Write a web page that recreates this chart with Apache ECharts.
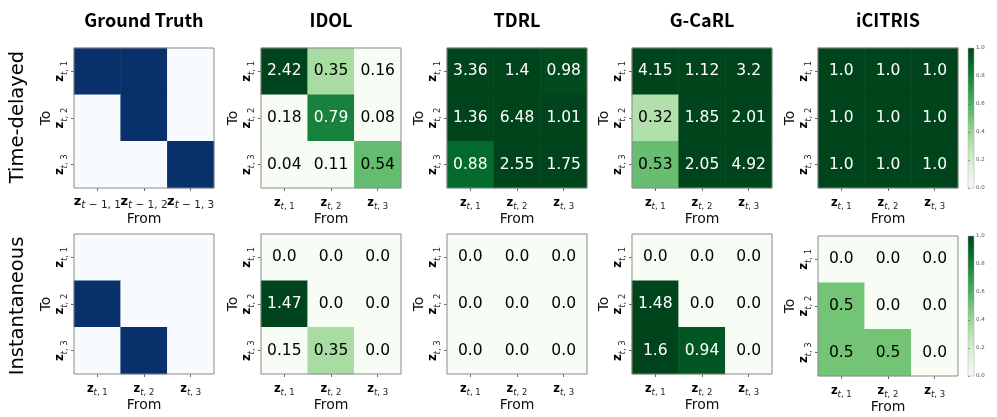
<!DOCTYPE html>
<html><head><meta charset="utf-8">
<script src="https://cdn.jsdelivr.net/npm/echarts@6/dist/echarts.min.js"></script>
<style>html,body{margin:0;padding:0;background:#fff}#c{width:997px;height:417px}</style>
</head><body><div id="c"></div><script>
// ---- data ----
const methods = ['Ground Truth', 'IDOL', 'TDRL', 'G-CaRL', 'iCITRIS'];
const rowNames = ['Time-delayed', 'Instantaneous'];
const subsNow = ['t, 1', 't, 2', 't, 3'];
const subsLag = ['t − 1, 1', 't − 1, 2', 't − 1, 3'];
const gtDelayed = [[1, 1, 0], [0, 1, 0], [0, 0, 1]];
const idolDelayed = [[2.42, 0.35, 0.16], [0.18, 0.79, 0.08], [0.04, 0.11, 0.54]];
const tdrlDelayed = [[3.36, 1.4, 0.98], [1.36, 6.48, 1.01], [0.88, 2.55, 1.75]];
const gcarlDelayed = [[4.15, 1.12, 3.2], [0.32, 1.85, 2.01], [0.53, 2.05, 4.92]];
const icitrisDelayed = [[1.0, 1.0, 1.0], [1.0, 1.0, 1.0], [1.0, 1.0, 1.0]];
const gtInst = [[0, 0, 0], [1, 0, 0], [0, 1, 0]];
const idolInst = [[0.0, 0.0, 0.0], [1.47, 0.0, 0.0], [0.15, 0.35, 0.0]];
const tdrlInst = [[0.0, 0.0, 0.0], [0.0, 0.0, 0.0], [0.0, 0.0, 0.0]];
const gcarlInst = [[0.0, 0.0, 0.0], [1.48, 0.0, 0.0], [1.6, 0.94, 0.0]];
const icitrisInst = [[0.0, 0.0, 0.0], [0.5, 0.0, 0.0], [0.5, 0.5, 0.0]];
const matrices = [
  [gtDelayed, idolDelayed, tdrlDelayed, gcarlDelayed, icitrisDelayed],
  [gtInst, idolInst, tdrlInst, gcarlInst, icitrisInst]
];

// ---- styles / layout ----
const lefts = [74, 261, 447, 632, 818];
const tops = [[48, 48, 48, 48, 48], [234, 234, 234, 234, 236]];
const SIZE = 140;
const greensStops = ['#f7fcf5', '#e5f5e0', '#c7e9c0', '#a1d99b', '#74c476', '#41ab5d', '#238b45', '#006d2c', '#00441b'];
function hex(c) { return [1, 3, 5].map(i => parseInt(c.slice(i, i + 2), 16)); }
function greens(t) {
  t = Math.max(0, Math.min(1, t));
  const p = t * 8, i = Math.min(7, Math.floor(p)), f = p - i;
  const a = hex(greensStops[i]), b = hex(greensStops[i + 1]);
  return 'rgb(' + a.map((v, k) => Math.round(v + (b[k] - v) * f)).join(',') + ')';
}
const cellColors = [];
for (let k = 0; k <= 20; k++) { const t = k / 20; cellColors.push(t <= 0.2 ? greensStops[0] : greens(t)); }

const FONT = 'DejaVu Sans';
function makeRich(zs, ss) {
  return {
    z: { fontFamily: FONT, fontWeight: 'bold', fontSize: zs, color: '#000', lineHeight: zs + 6, verticalAlign: 'middle' },
    i: { fontFamily: FONT, fontStyle: 'italic', fontSize: ss, color: '#222', lineHeight: ss + 2, verticalAlign: 'bottom' },
    s: { fontFamily: FONT, fontSize: ss, color: '#222', lineHeight: ss + 2, verticalAlign: 'bottom' }
  };
}
const rich = makeRich(11.5, 8.5);
const richLag = makeRich(13, 10.5);
function tickFmt(sub) { return '{z|z}{i|t}{s|' + sub.slice(1) + '}'; }
function valFmt(v) { return Number.isInteger(v) ? v.toFixed(1) : String(v); }

const grids = [], xAxes = [], yAxes = [], series = [], visualMaps = [], graphics = [];
for (let r = 0; r < 2; r++) {
  for (let c = 0; c < 5; c++) {
    const idx = r * 5 + c;
    const m = matrices[r][c];
    const lag = (r === 0 && c === 0);
    grids.push({ left: lefts[c], top: tops[r][c], width: SIZE, height: SIZE, show: true,
      borderColor: '#8a8a8a', borderWidth: 1, backgroundColor: 'transparent', z: 10 });
    xAxes.push({ gridIndex: idx, type: 'category', data: lag ? subsLag : subsNow, axisLine: { show: false },
      axisTick: { show: true, alignWithLabel: true, length: 3, lineStyle: { color: '#444', width: 0.8 } },
      axisLabel: { interval: 0, margin: lag ? 4 : 6, formatter: tickFmt, rich: lag ? richLag : rich },
      splitLine: { show: false }, splitArea: { show: false },
      name: 'From', nameLocation: 'middle', nameGap: lag ? 21 : 19,
      nameTextStyle: { fontFamily: FONT, fontSize: 14, color: '#111' } });
    yAxes.push({ gridIndex: idx, type: 'category', data: subsNow, inverse: true, axisLine: { show: false },
      axisTick: { show: true, alignWithLabel: true, length: 3, lineStyle: { color: '#444', width: 0.8 } },
      axisLabel: { interval: 0, margin: 5, rotate: 90, formatter: tickFmt, rich: rich },
      splitLine: { show: false }, splitArea: { show: false },
      name: 'To', nameLocation: 'middle', nameGap: 18, nameRotate: 90,
      nameTextStyle: { fontFamily: FONT, fontSize: 14, color: '#111' } });
    const data = [];
    for (let y = 0; y < 3; y++) for (let x = 0; x < 3; x++) {
      const v = m[y][x];
      data.push({ value: [x, y, v], label: { color: Math.min(v, 1) >= 0.6 ? '#ffffff' : '#000000' } });
    }
    series.push({ type: 'heatmap', xAxisIndex: idx, yAxisIndex: idx, data: data,
      itemStyle: { borderWidth: 0 }, emphasis: { disabled: true },
      label: { show: c > 0, fontFamily: FONT, fontSize: 15.5, formatter: p => valFmt(p.value[2]) } });
    visualMaps.push({ type: 'continuous', show: false, seriesIndex: idx, dimension: 2, min: 0, max: 1,
      inRange: { color: c === 0 ? ['#f7fbff', '#08306b'] : cellColors } });
  }
}
// colorbars
const cbGradient = { type: 'linear', x: 0, y: 1, x2: 0, y2: 0,
  colorStops: greensStops.map((col, i) => ({ offset: i / 8, color: col })) };
[48, 236].forEach((t, k) => {
  const gi = 10 + k;
  grids.push({ left: 968, top: t, width: 6, height: SIZE, show: true, backgroundColor: cbGradient,
    borderColor: '#aaa', borderWidth: 0.5 });
  xAxes.push({ gridIndex: gi, type: 'value', show: false, min: 0, max: 1 });
  yAxes.push({ gridIndex: gi, type: 'value', min: 0, max: 1, interval: 0.2, position: 'right',
    axisLine: { show: false }, splitLine: { show: false },
    axisTick: { show: true, length: 2, lineStyle: { color: '#666', width: 0.6 } },
    axisLabel: { fontSize: 5.5, color: '#555', margin: 2, fontFamily: FONT, formatter: v => v.toFixed(1) } });
});
// titles & row labels
methods.forEach((name, c) => {
  graphics.push({ type: 'text', x: lefts[c] + SIZE / 2, y: 20,
    style: { text: name, fontFamily: 'Noto Sans CJK SC', fontWeight: 'bold', fontSize: 18, fill: '#000',
      align: 'center', verticalAlign: 'middle' } });
});
[117, 306].forEach((y, r) => {
  graphics.push({ type: 'text', x: 18, y: y, rotation: Math.PI / 2,
    style: { text: rowNames[r], fontFamily: FONT, fontSize: 19.5, fill: '#000', align: 'center', verticalAlign: 'middle' } });
});

const chart = echarts.init(document.getElementById('c'), null, { renderer: 'canvas' });
chart.setOption({
  animation: false, backgroundColor: '#fff',
  grid: grids, xAxis: xAxes, yAxis: yAxes, visualMap: visualMaps, series: series, graphic: graphics
});
</script></body></html>
